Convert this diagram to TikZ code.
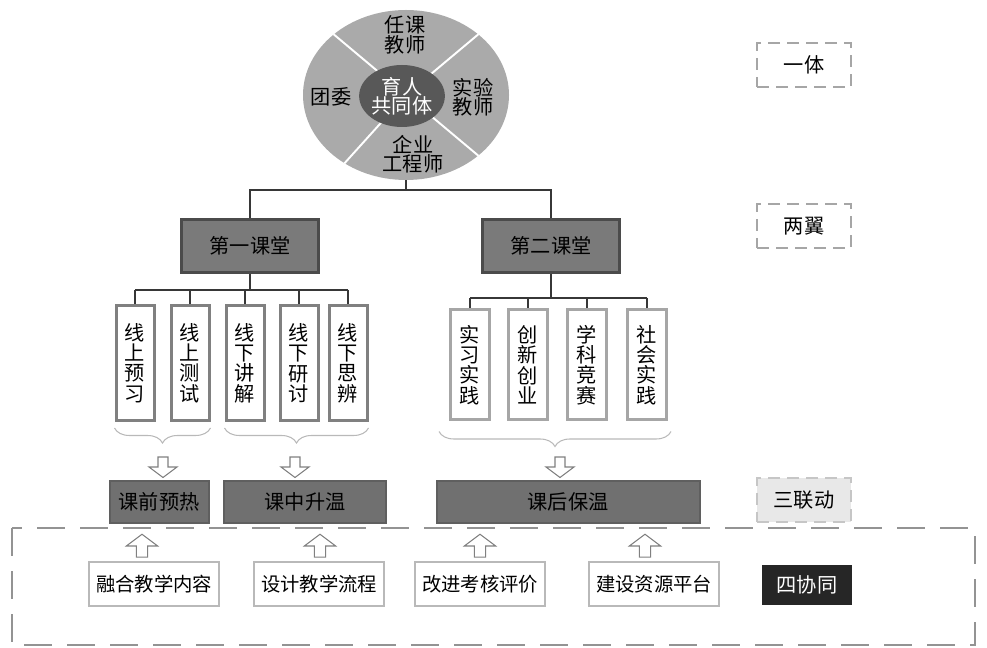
\documentclass[tikz,border=0pt]{standalone}
\usepackage{fontspec}
\setmainfont{Noto Sans CJK SC}
\usetikzlibrary{arrows.meta,positioning,calc,shapes.geometric,decorations.pathreplacing}
\definecolor{ring}{RGB}{170,170,170}
\definecolor{core}{RGB}{88,88,88}
\definecolor{slate}{RGB}{122,122,122}
\definecolor{frame}{RGB}{128,128,128}
\definecolor{pale}{RGB}{185,185,185}
\definecolor{ink}{RGB}{55,55,55}
\tikzset{
  txt/.style={font=\fontsize{11.5pt}{11pt}\selectfont,align=center},
  hall/.style={txt,fill=slate,draw=ink!90,line width=0.5mm,
    minimum width=27.4mm,minimum height=10.6mm},
  vbox/.style={txt,draw=#1,fill=white,line width=0.6mm,inner sep=0pt,
    minimum width=7.6mm,minimum height=23mm,
    font=\fontsize{11.5pt}{11.6pt}\selectfont},
  vbox/.default=frame,
  stage/.style={txt,fill=slate!92!black,draw=ink!80,line width=0.4mm,
    minimum height=8.2mm},
  plain box/.style={txt,draw=pale,fill=white,line width=0.4mm,
    minimum width=26mm,minimum height=8.8mm,font=\fontsize{11pt}{11pt}\selectfont},
  tag box/.style={txt,draw=gray!70,dash pattern=on 2.4mm off 1.4mm,line width=0.4mm,
    minimum width=18.8mm,minimum height=8.8mm},
  link/.style={draw=ink,line width=0.6pt},
  curly/.style={decorate,decoration={brace,mirror,amplitude=3mm},draw=pale,line width=0.6pt},
  % hollow block arrow, tip pointing down
  pics/hollow/.style={code={
    \draw[frame,fill=white,line width=0.6pt] (-1mm,2mm) -- (1mm,2mm) -- (1mm,0)
      -- (2.8mm,0) -- (0,-2.1mm) -- (-2.8mm,0) -- (-1mm,0) -- cycle;
  }},
}
\begin{document}
\begin{tikzpicture}[x=0.2mm,y=-0.2mm]
  \useasboundingbox (0,0) rectangle (987,648);

  % community ring
  \node[ellipse,fill=ring,minimum width=41.2mm,minimum height=34mm] (ring) at (406,95) {};
  \foreach \a in {40,140,-40,-132}
    \draw[white,line width=1.1pt] (ring.center) -- (ring.\a);
  \node[ellipse,fill=core,minimum width=16mm,minimum height=12.4mm,inner sep=0pt,
    txt,text=white] (core) at (402,96) {育人\\共同体};
  \node[txt] (t1) at (405,35) {任课\\教师};
  \node[txt] (t2) at (331,97) {团委};
  \node[txt] (t3) at (473,97) {实验\\教师};
  \node[txt] (t4) at (413,154) {企业\\工程师};

  % two wings
  \node[hall] (first) at (250,246) {第一课堂};
  \node[hall] (second) at (551,246) {第二课堂};
  \coordinate (split) at (406,190);
  \draw[link] (ring.south) -- (split);
  \draw[link] (first.north) -- (first.north |- split) -- (second.north |- split) -- (second.north);

  \foreach \i/\x/\t in {1/135/线\\上\\预\\习,2/190/线\\上\\测\\试,3/245/线\\下\\讲\\解,
      4/299/线\\下\\研\\讨,5/348/线\\下\\思\\辨}
    \node[vbox] (a\i) at (\x,363) {\t};
  \foreach \i/\x/\t in {1/470/实\\习\\实\\践,2/528/创\\新\\创\\业,3/587/学\\科\\竞\\赛,
      4/647/社\\会\\实\\践}
    \node[vbox=pale!90!black,minimum height=22mm,minimum width=7.8mm] (b\i) at (\x,365) {\t};

  \coordinate (bar1) at (0,290);
  \coordinate (bar2) at (0,298);
  \draw[link] (first.south) -- (first.south |- bar1);
  \draw[link] (a1.north |- bar1) -- (a5.north |- bar1);
  \foreach \i in {1,...,5}
    \draw[link] (a\i.north |- bar1) -- (a\i.north);
  \draw[link] (second.south) -- (second.south |- bar2);
  \draw[link] (b1.north |- bar2) -- (b4.north |- bar2);
  \foreach \i in {1,...,4}
    \draw[link] (b\i.north |- bar2) -- (b\i.north);

  % braces
  \draw[curly] ($(a1.south west)+(0,6)$) -- ($(a2.south east)+(0,6)$);
  \draw[curly] ($(a3.south west)+(0,6)$) -- ($(a5.south east)+(0,6)$);
  \draw[curly] ($(b1.south west)+(-10,10)$) -- ($(b4.south east)+(3,10)$);

  % three stages
  \node[stage,minimum width=19.8mm] (pre) at (159,502) {课前预热};
  \node[stage,minimum width=32.4mm] (mid) at (305,502) {课中升温};
  \node[stage,minimum width=52.6mm] (post) at (568,502) {课后保温};
  \pic at (163,467) {hollow};
  \pic at (295,467) {hollow};
  \pic at (560,467) {hollow};

  % four supports
  \draw[gray!85,line width=0.45mm,dash pattern=on 5.6mm off 3mm] (12,528) rectangle (975,645);
  \node[plain box] (c1) at (154,584) {融合教学内容};
  \node[plain box] (c2) at (319,584) {设计教学流程};
  \node[plain box] (c3) at (480,584) {改进考核评价};
  \node[plain box] (c4) at (654,584) {建设资源平台};
  \foreach \x in {142,320,480,645}
    \pic[rotate=180,scale=1.12] at (\x,546) {hollow};

  % level tags
  \node[tag box] (one) at (804,65) {一体};
  \node[tag box] (two) at (804,226) {两翼};
  \node[tag box,fill=gray!18,draw=gray!45,line width=0.3mm] (three) at (804,500) {三联动};
  \node[txt,fill=black!85,text=white,minimum width=18mm,minimum height=8mm] (four) at (807,585) {四协同};
\end{tikzpicture}
\end{document}
